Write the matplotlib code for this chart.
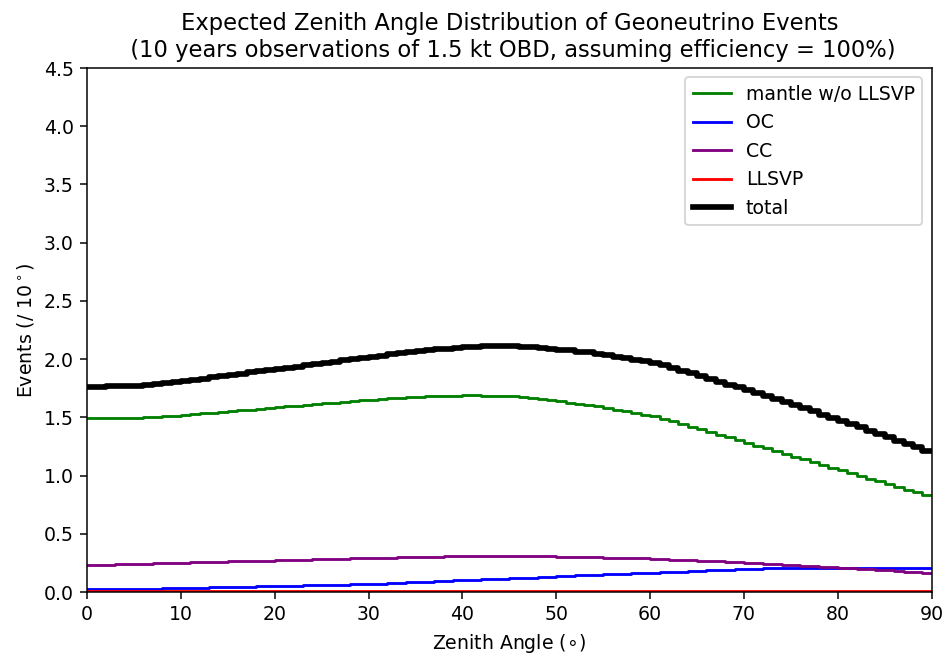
import numpy as np
import matplotlib
matplotlib.use("Agg")
import matplotlib.pyplot as plt

# Zenith angle bin edges (1 degree bins, 0-90 deg)
angle_edges = np.arange(0, 91, 1)

# Expected events per bin for each geoneutrino source
mantle = [
    1.497, 1.497, 1.497, 1.497, 1.497, 1.497, 1.500, 1.505, 1.510, 1.515,
    1.520, 1.527, 1.533, 1.540, 1.547, 1.553, 1.560, 1.567, 1.573, 1.580,
    1.587, 1.594, 1.600, 1.607, 1.614, 1.620, 1.627, 1.634, 1.640, 1.647,
    1.653, 1.658, 1.663, 1.667, 1.671, 1.675, 1.679, 1.682, 1.685, 1.687,
    1.688, 1.688, 1.687, 1.686, 1.683, 1.680, 1.674, 1.665, 1.656, 1.647,
    1.637, 1.627, 1.616, 1.605, 1.594, 1.581, 1.567, 1.553, 1.538, 1.524,
    1.508, 1.488, 1.467, 1.444, 1.421, 1.397, 1.374, 1.350, 1.327, 1.303,
    1.280, 1.256, 1.233, 1.209, 1.186, 1.162, 1.139, 1.115, 1.092, 1.068,
    1.045, 1.021, 0.998, 0.974, 0.951, 0.927, 0.904, 0.880, 0.857, 0.833,
]

oc = [
    0.025, 0.025, 0.026, 0.026, 0.027, 0.028, 0.029, 0.030, 0.031, 0.032,
    0.033, 0.035, 0.037, 0.039, 0.041, 0.043, 0.045, 0.047, 0.048, 0.049,
    0.050, 0.052, 0.054, 0.056, 0.058, 0.060, 0.062, 0.064, 0.066, 0.068,
    0.070, 0.073, 0.076, 0.079, 0.082, 0.085, 0.088, 0.092, 0.095, 0.099,
    0.102, 0.105, 0.108, 0.111, 0.114, 0.117, 0.121, 0.124, 0.128, 0.131,
    0.135, 0.139, 0.142, 0.146, 0.149, 0.152, 0.155, 0.158, 0.161, 0.164,
    0.167, 0.170, 0.173, 0.176, 0.179, 0.182, 0.185, 0.188, 0.191, 0.194,
    0.197, 0.200, 0.202, 0.204, 0.205, 0.206, 0.207, 0.208, 0.208, 0.209,
    0.209, 0.209, 0.210, 0.210, 0.210, 0.210, 0.210, 0.210, 0.210, 0.210,
]

cc = [
    0.232, 0.234, 0.236, 0.238, 0.240, 0.242, 0.244, 0.246, 0.248, 0.250,
    0.252, 0.254, 0.256, 0.258, 0.260, 0.262, 0.264, 0.266, 0.268, 0.270,
    0.272, 0.274, 0.276, 0.278, 0.280, 0.282, 0.284, 0.286, 0.288, 0.290,
    0.292, 0.294, 0.296, 0.298, 0.300, 0.302, 0.303, 0.304, 0.305, 0.306,
    0.307, 0.307, 0.308, 0.308, 0.308, 0.308, 0.307, 0.307, 0.306, 0.305,
    0.304, 0.303, 0.301, 0.300, 0.298, 0.296, 0.294, 0.292, 0.290, 0.288,
    0.285, 0.282, 0.279, 0.276, 0.273, 0.270, 0.266, 0.262, 0.258, 0.254,
    0.250, 0.246, 0.242, 0.238, 0.234, 0.230, 0.226, 0.222, 0.218, 0.214,
    0.210, 0.206, 0.201, 0.196, 0.191, 0.186, 0.180, 0.175, 0.169, 0.163,
]

llsvp = [
    0.006, 0.006, 0.006, 0.006, 0.006, 0.006, 0.006, 0.006, 0.006, 0.006,
    0.006, 0.006, 0.006, 0.006, 0.006, 0.006, 0.006, 0.006, 0.006, 0.006,
    0.006, 0.006, 0.006, 0.006, 0.006, 0.006, 0.006, 0.006, 0.006, 0.006,
    0.006, 0.006, 0.006, 0.006, 0.006, 0.006, 0.006, 0.006, 0.006, 0.006,
    0.006, 0.006, 0.006, 0.006, 0.006, 0.006, 0.006, 0.006, 0.006, 0.006,
    0.006, 0.006, 0.006, 0.006, 0.006, 0.006, 0.006, 0.006, 0.006, 0.006,
    0.006, 0.006, 0.006, 0.006, 0.006, 0.006, 0.006, 0.006, 0.006, 0.006,
    0.006, 0.006, 0.006, 0.006, 0.006, 0.006, 0.006, 0.006, 0.006, 0.006,
    0.006, 0.006, 0.006, 0.006, 0.006, 0.006, 0.006, 0.006, 0.006, 0.006,
]

total = np.array(mantle) + np.array(oc) + np.array(cc) + np.array(llsvp)

DPI = 136
fig = plt.figure(figsize=(943 / DPI, 654 / DPI), dpi=DPI)
ax = fig.add_axes([0.0923, 0.0948, 0.8957, 0.8012])


def step_hist(values, **kw):
    """Draw a binned histogram as a post-step line over the bin edges."""
    vals = np.append(np.asarray(values, dtype=float), values[-1])
    ax.step(angle_edges, vals, where="post", **kw)


step_hist(mantle, color="green", lw=1.5, label="mantle w/o LLSVP")
step_hist(oc, color="blue", lw=1.5, label="OC")
step_hist(cc, color="purple", lw=1.5, label="CC")
step_hist(llsvp, color="red", lw=1.5, label="LLSVP")
step_hist(total, color="black", lw=3, label="total")

ax.set_xlim(0, 90)
ax.set_ylim(0, 4.5)
ax.set_xticks(np.arange(0, 91, 10))
ax.set_yticks(np.arange(0, 4.51, 0.5))
ax.set_xlabel(r"Zenith Angle ($\circ$)")
ax.set_ylabel(r"Events (/ 10$^\circ$)")
ax.set_title("Expected Zenith Angle Distribution of Geoneutrino Events\n"
             " (10 years observations of 1.5 kt OBD, assuming efficiency = 100%)")
ax.legend(loc="upper right")

fig.savefig("out.png", dpi=DPI)
